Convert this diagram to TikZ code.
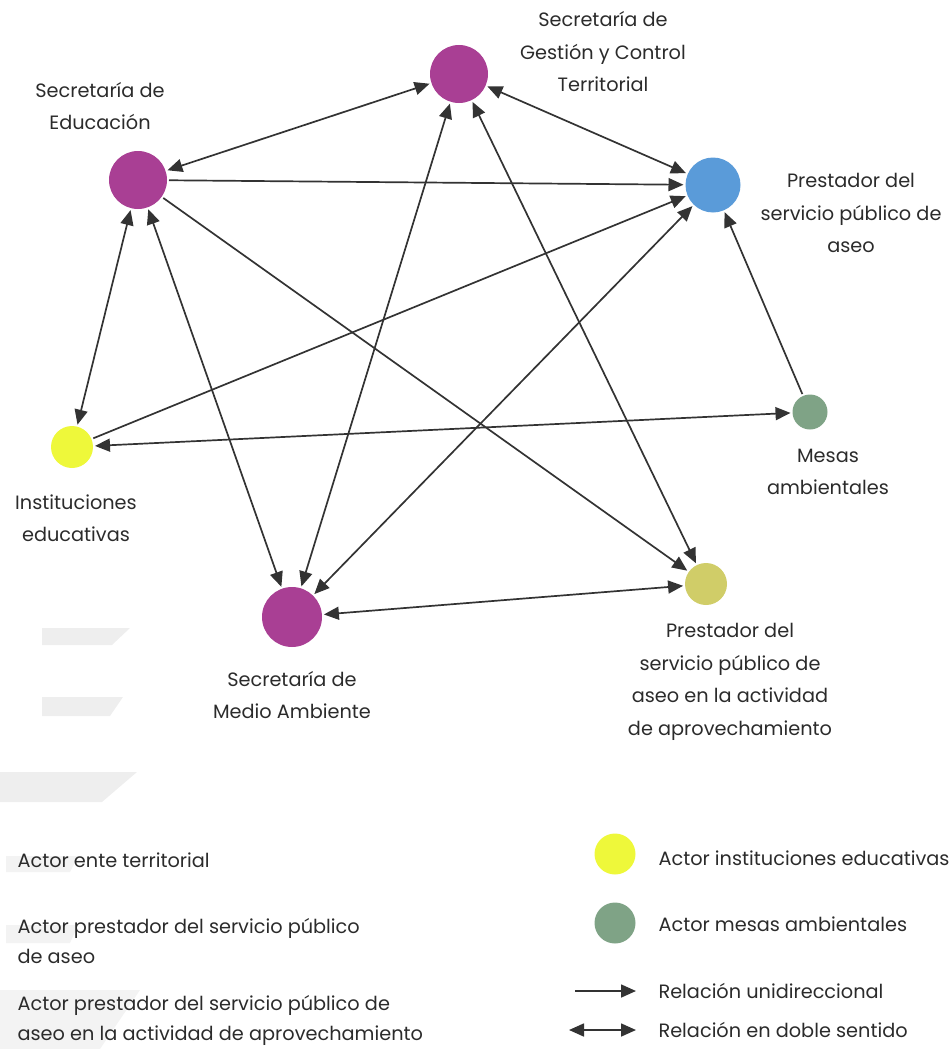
\documentclass[tikz,border=0pt]{standalone}
\usepackage{fontspec}
\setmainfont{Poppins}
\usetikzlibrary{arrows.meta}
\definecolor{magentaA}{HTML}{A93F94}
\definecolor{blueA}{HTML}{5A9BD9}
\definecolor{yellowA}{HTML}{EEF83A}
\definecolor{greenA}{HTML}{7FA386}
\definecolor{oliveA}{HTML}{D0CD68}
\definecolor{lineA}{HTML}{333333}
\definecolor{textA}{HTML}{2B2B2B}
\definecolor{ghostA}{HTML}{EEEEEE}
\definecolor{ghostB}{HTML}{F3F3F3}
\tikzset{
  actor/.style={circle, inner sep=0pt, outer sep=2pt, draw=none},
  lbl/.style={align=center, text=textA, font=\fontsize{19.3}{32.5}\selectfont},
  leg/.style={align=left, anchor=west, text=textA, font=\fontsize{19.3}{30}\selectfont},
  rel/.style={draw=lineA, line width=1.7pt, -{Triangle[length=15pt,width=13pt]}},
  relb/.style={draw=lineA, line width=1.7pt, {Triangle[length=15pt,width=13pt]}-{Triangle[length=15pt,width=13pt]}},
  ghost/.style={fill=ghostA, draw=none},
  ghostl/.style={fill=ghostB, draw=none},
}
\begin{document}
\begin{tikzpicture}[x=1pt,y=-1pt]
\useasboundingbox (0,0) rectangle (952,1049);
% faint ghost shapes
\fill[ghost] (42,628) -- (130,628) -- (112,645) -- (42,645) -- cycle;
\fill[ghost] (42,697) -- (123,697) -- (110,716) -- (42,716) -- cycle;
\fill[ghost] (0,772) -- (137,772) -- (102,802) -- (0,802) -- cycle;
\fill[ghostl] (6,856) -- (78,856) -- (70,872) -- (6,872) -- cycle;
\fill[ghostl] (6,925) -- (78,925) -- (70,943) -- (6,943) -- cycle;
\fill[ghostl] (0,990) -- (140,990) -- (100,1049) -- (0,1049) -- cycle;

% actors
\node[actor, fill=magentaA, minimum size=58pt] (sgct) at (459,74) {};
\node[actor, fill=magentaA, minimum size=58pt] (se) at (138,180) {};
\node[actor, fill=blueA, minimum size=55pt] (pspa) at (713,185) {};
\node[actor, fill=yellowA, minimum size=42pt] (ie) at (72,447) {};
\node[actor, fill=greenA, minimum size=35pt] (ma) at (810,412) {};
\node[actor, fill=magentaA, minimum size=60pt] (sma) at (292,617) {};
\node[actor, fill=oliveA, minimum size=42pt] (pspaa) at (706,584) {};

% labels
\node[lbl] (lsgct) at (603,52) {Secretaría de\\Gestión y Control\\Territorial};
\node[lbl] (lse) at (100,106) {Secretaría de\\Educación};
\node[lbl] (lpspa) at (851,213) {Prestador del\\servicio público de\\aseo};
\node[lbl] (lie) at (76,518) {Instituciones\\educativas};
\node[lbl] (lma) at (828,472) {Mesas\\ambientales};
\node[lbl] (lsma) at (292,695) {Secretaría de\\Medio Ambiente};
\node[lbl] (lpspaa) at (730,682) {Prestador del\\servicio público de\\aseo en la actividad\\de aprovechamiento};

% relations
\draw[relb] (se) -- (sgct);
\draw[rel] (se) -- (pspa);
\draw[rel] (se) -- (pspaa);
\draw[relb] (se) -- (ie);
\draw[relb] (se) -- (sma);
\draw[relb] (sgct) -- (sma);
\draw[relb] (sgct) -- (pspaa);
\draw[relb] (pspa) -- (sgct);
\draw[rel] (ie) -- (pspa);
\draw[relb] (ma) -- (ie);
\draw[rel] (ma) -- (pspa);
\draw[relb] (pspa) -- (sma);
\draw[relb] (sma) -- (pspaa);

% legend left
\node[leg] (t1) at (14,860) {Actor ente territorial};
\node[leg] (t2) at (14,941) {Actor prestador del servicio público\\de aseo};
\node[leg] (t3) at (14,1020) {Actor prestador del servicio público de\\aseo en la actividad de aprovechamiento};

% legend right
\node[actor, fill=yellowA, minimum size=41pt] (ly) at (615,854) {};
\node[actor, fill=greenA, minimum size=41pt] (lg) at (615,923) {};
\coordinate (a1) at (575,991);
\coordinate (a2) at (636,991);
\coordinate (b1) at (569,1030);
\coordinate (b2) at (636,1030);
\draw[rel] (a1) -- (a2);
\draw[relb] (b1) -- (b2);
\node[leg] (t4) at (655,858) {Actor instituciones educativas};
\node[leg] (t5) at (655,924) {Actor mesas ambientales};
\node[leg] (t6) at (655,991) {Relación unidireccional};
\node[leg] (t7) at (655,1030) {Relación en doble sentido};
\end{tikzpicture}
\end{document}
